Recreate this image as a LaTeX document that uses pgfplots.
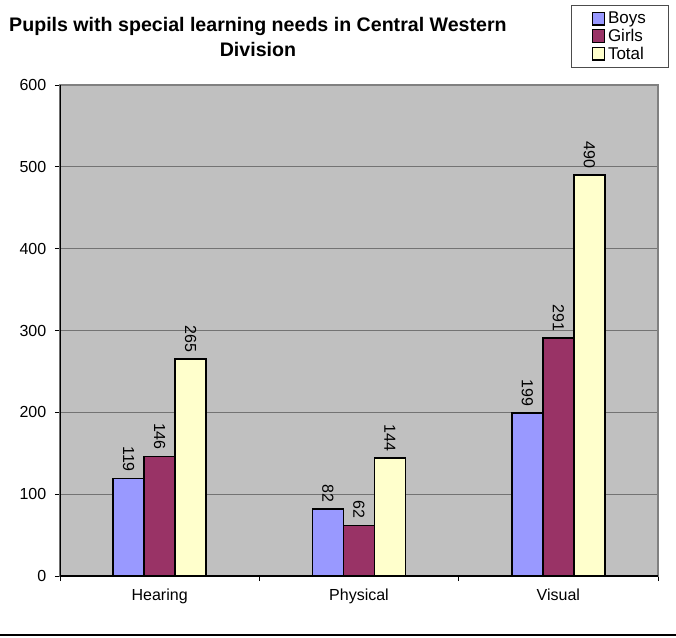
\documentclass[border=0pt]{standalone}
\usepackage{pgfplots}
\pgfplotsset{compat=1.18}
\usepackage{fontspec}
\setmainfont{Liberation Sans}

\definecolor{boys}{HTML}{9999FF}
\definecolor{girls}{HTML}{993366}
\definecolor{total}{HTML}{FFFFCC}
\definecolor{plotbg}{HTML}{C0C0C0}

\begin{document}
\begin{tikzpicture}
\useasboundingbox (-45pt,-45.75pt) rectangle (462pt,432pt);
\begin{axis}[
    at={(0,0)}, anchor=south west,
    scale only axis,
    width=448.5pt, height=368.25pt,
    ybar=0pt, bar width=23.25pt,
    xmin=-0.5, xmax=2.5,
    ymin=0, ymax=600,
    ytick={0,100,...,600},
    xtick={-0.5,0.5,1.5,2.5},
    xticklabels={},
    extra x ticks={0,1,2},
    extra x tick labels={Hearing,Physical,Visual},
    extra x tick style={major tick length=0pt},
    xtick pos=bottom, ytick pos=left,
    tick align=outside,
    major tick length=3.75pt,
    tick style={black, line width=0.6pt},
    ymajorgrids,
    grid style={black!55, line width=0.7pt},
    axis background/.style={fill=plotbg},
    axis line style={black!50, line width=0.8pt},
    /pgf/number format/assume math mode=true,
    tick label style={font=\fontsize{12}{13}\selectfont},
    yticklabel style={xshift=-3pt},
    xticklabel style={yshift=-6pt},
    title={Pupils with special learning needs in Central Western\\Division},
    title style={at={(0.331,1)}, anchor=south, align=center,
        font=\fontsize{14.7}{18.75}\selectfont\bfseries, inner sep=0pt, yshift=15pt},
    legend style={at={(1.0184,1.163)}, anchor=north east,
        font=\fontsize{12.75}{12}\selectfont, draw=black!70, line width=0.8pt,
        inner xsep=15pt, inner ysep=3pt, row sep=-1.5pt,
        cells={anchor=west}},
    legend image code/.code={\draw[#1, line width=0.8pt] (0pt,-4.5pt) rectangle (9.5pt,5pt);},
    nodes near coords,
    every node near coord/.append style={rotate=-90, anchor=east, inner sep=4.5pt,
        font=\fontsize{12}{13}\selectfont, black},
    every axis plot/.append style={draw=black, line width=1.1pt},
]
\addplot[fill=boys] coordinates {(0,119) (1,82) (2,199)};
\addplot[fill=girls] coordinates {(0,146) (1,62) (2,291)};
\addplot[fill=total] coordinates {(0,265) (1,144) (2,490)};
\legend{Boys,Girls,Total}
\draw[black, line width=0.8pt] (rel axis cs:0,1) -- (rel axis cs:0,0) -- (rel axis cs:1,0);
\end{axis}
\draw[black, line width=1.2pt] (-45pt,-44.25pt) -- (462pt,-44.25pt);
\end{tikzpicture}
\end{document}
